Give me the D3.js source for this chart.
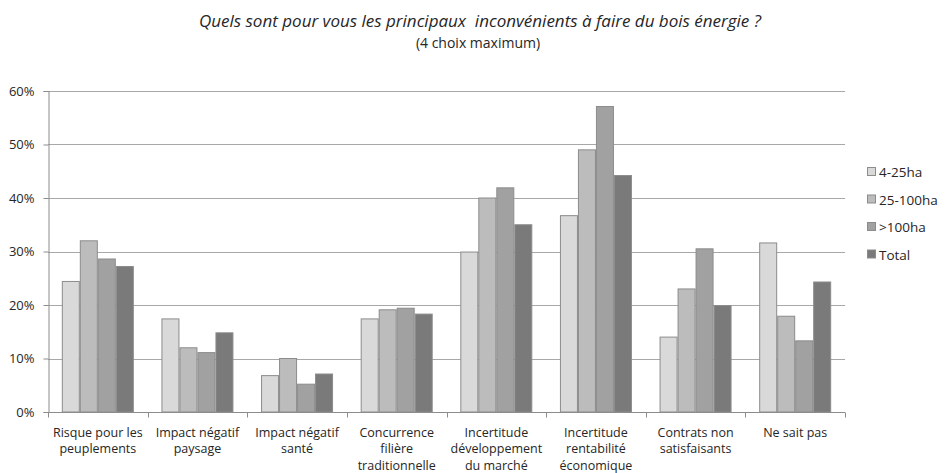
<!DOCTYPE html>
<html>
<head>
<meta charset="utf-8">
<script src="https://d3js.org/d3.v7.min.js"></script>
<style>
  body { margin: 0; background: #fff; }
  text { font-family: "Open Sans", "Liberation Sans", sans-serif; fill: #262626; }
</style>
</head>
<body>
<div id="chart"></div>
<script>
// data (percent)
var categories = [
  ["Risque pour les", "peuplements"],
  ["Impact négatif", "paysage"],
  ["Impact négatif", "santé"],
  ["Concurrence", "filière", "traditionnelle"],
  ["Incertitude", "développement", "du marché"],
  ["Incertitude", "rentabilité", "économique"],
  ["Contrats non", "satisfaisants"],
  ["Ne sait pas"]
];
var seriesNames = ["4-25ha", "25-100ha", ">100ha", "Total"];
var small  = [24.4, 17.4, 6.8, 17.4, 29.9, 36.7, 14.0, 31.6];
var medium = [32.0, 12.0, 10.0, 19.1, 40.0, 49.0, 23.0, 17.9];
var large  = [28.6, 11.1, 5.2, 19.4, 41.9, 57.1, 30.5, 13.3];
var total  = [27.2, 14.8, 7.1, 18.3, 35.0, 44.2, 19.9, 24.3];
var yTicks = [0, 10, 20, 30, 40, 50, 60];

var series = [small, medium, large, total];
var colors = ["#d9d9d9", "#bcbcbc", "#a1a1a1", "#7a7a7a"];

var svgWidth = 947;
var svgHeight = 473;
var margin = {top: 91, right: 102, bottom: 61, left: 48};
var chartWidth = svgWidth - margin.left - margin.right;
var chartHeight = svgHeight - margin.top - margin.bottom;

var svg = d3.select("#chart")
    .append("svg")
    .attr("width", svgWidth)
    .attr("height", svgHeight);

// titles
svg.append("text")
    .attr("x", 480)
    .attr("y", 27)
    .attr("text-anchor", "middle")
    .style("font-style", "italic")
    .style("font-size", "17px")
    .style("white-space", "pre")
    .text("Quels sont pour vous les principaux  inconvénients à faire du bois énergie ?");

svg.append("text")
    .attr("x", 478)
    .attr("y", 48)
    .attr("text-anchor", "middle")
    .style("font-size", "14px")
    .text("(4 choix maximum)");

var chartGroup = svg.append("g")
    .attr("transform", `translate(${margin.left},${margin.top})`);

var x0 = d3.scaleBand()
    .domain(d3.range(categories.length))
    .range([0, chartWidth]);

var x1 = d3.scaleBand()
    .domain(d3.range(series.length))
    .range([0, 72])
    .padding(0);

var yScale = d3.scaleLinear()
    .domain([0, 60])
    .range([chartHeight, 0]);

// gridlines
chartGroup.append("g")
    .selectAll("line")
    .data(yTicks.slice(1))
    .enter()
    .append("line")
    .attr("x1", 0)
    .attr("x2", chartWidth)
    .attr("y1", d => Math.round(yScale(d)) + 0.5)
    .attr("y2", d => Math.round(yScale(d)) + 0.5)
    .attr("stroke", "#a8a8a8")
    .attr("stroke-width", 1);

// bars
var groups = chartGroup.selectAll("g.cat")
    .data(categories)
    .enter()
    .append("g")
    .attr("class", "cat")
    .attr("transform", (d, i) => `translate(${x0(i) + (x0.bandwidth() - 72) / 2},0)`);

groups.selectAll("rect")
    .data((d, i) => series.map((s, j) => ({s: j, v: s[i]})))
    .enter()
    .append("rect")
    .attr("x", d => x1(d.s) + 0.5)
    .attr("y", d => yScale(d.v))
    .attr("width", x1.bandwidth() - 1)
    .attr("height", d => chartHeight - yScale(d.v))
    .attr("fill", d => colors[d.s])
    .attr("stroke", "#8c8c8c")
    .attr("stroke-width", 1);

// y axis
var yAxis = chartGroup.append("g")
    .attr("transform", "translate(0.5,0)")
    .call(d3.axisLeft(yScale).tickValues(yTicks).tickFormat(d => d + "%").tickSize(5).tickPadding(9));
yAxis.select(".domain").attr("stroke", "#8c8c8c");
yAxis.selectAll(".tick line").attr("stroke", "#8c8c8c");
yAxis.selectAll(".tick text")
    .style("font-size", "13px")
    .style("font-family", "'Open Sans', sans-serif")
    .attr("fill", "#262626");

// x axis with ticks on category boundaries
var xAxisG = chartGroup.append("g")
    .attr("transform", `translate(0,${chartHeight + 0.5})`);
xAxisG.append("line")
    .attr("x1", 0).attr("x2", chartWidth)
    .attr("stroke", "#8c8c8c");
xAxisG.selectAll("line.tk")
    .data(d3.range(categories.length + 1))
    .enter()
    .append("line")
    .attr("class", "tk")
    .attr("x1", d => Math.round(d * x0.bandwidth()) + 0.5)
    .attr("x2", d => Math.round(d * x0.bandwidth()) + 0.5)
    .attr("y1", 0)
    .attr("y2", 5)
    .attr("stroke", "#8c8c8c");

var labels = xAxisG.selectAll("text.cat")
    .data(categories)
    .enter()
    .append("text")
    .attr("class", "cat")
    .attr("text-anchor", "middle")
    .attr("transform", (d, i) => `translate(${x0(i) + x0.bandwidth() / 2},24)`)
    .style("font-size", "12.5px");

labels.selectAll("tspan")
    .data(d => d)
    .enter()
    .append("tspan")
    .attr("x", 0)
    .attr("y", (d, i) => i * 16.5)
    .text(d => d);

// legend
var legend = svg.append("g")
    .attr("transform", "translate(867,172)");

var items = legend.selectAll("g")
    .data(seriesNames)
    .enter()
    .append("g")
    .attr("transform", (d, i) => `translate(0,${i * 27.5})`);

items.append("rect")
    .attr("x", 0.5)
    .attr("y", -4.5)
    .attr("width", 8)
    .attr("height", 8)
    .attr("fill", (d, i) => colors[i])
    .attr("stroke", "#8c8c8c");

items.append("text")
    .attr("x", 12)
    .attr("y", 5)
    .style("font-size", "13.5px")
    .text(d => d);
</script>
</body>
</html>
